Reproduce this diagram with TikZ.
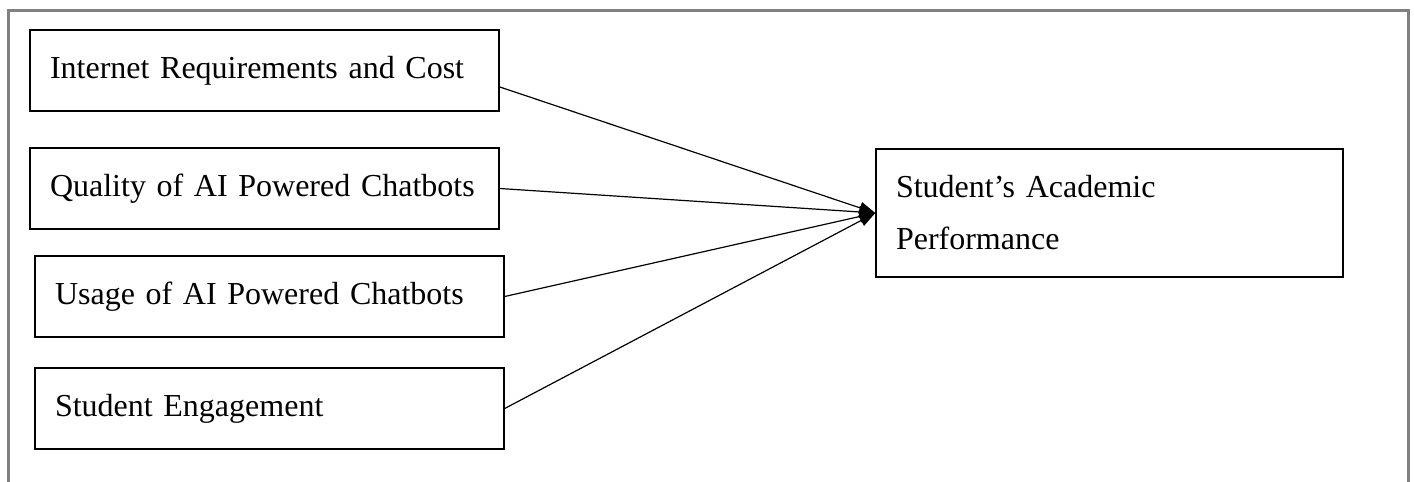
\documentclass[tikz,border=0pt]{standalone}
\usepackage{fontspec}
\setmainfont{Liberation Serif}
\usetikzlibrary{arrows.meta}
\begin{document}
\begin{tikzpicture}[x=1pt,y=1pt,
    factor/.style={draw,line width=1.4pt,minimum width=469pt,minimum height=81pt,
      inner xsep=20pt,text width=429pt,align=left,font=\fontsize{32}{52}\selectfont},
    outcome/.style={factor,minimum width=467pt,minimum height=128pt,text width=427pt}]
  \useasboundingbox (0,0) rectangle (1414,482);
  \draw[gray,line width=3pt] (8.5,-5) |- (1408,471) -- (1408,-5);
  \draw
    (264.5,411.5) node[factor] (cost){Internet Requirements and Cost}
    (264.5,293.5) node[factor] (quality){Quality of AI Powered Chatbots}
    (269.5,185.5) node[factor] (usage){Usage of AI Powered Chatbots}
    (269.5,73.5) node[factor] (engage){Student Engagement}
    (1109.5,269) node[outcome] (perf){Student’s Academic\\Performance};
  \begin{scope}[line width=1.2pt,-{Triangle[length=16pt,width=12pt]}]
    \draw (cost.-4) to (perf.west);
    \draw (quality.east) to (perf.west);
    \draw (usage.east) to (perf.west);
    \draw (engage.east) to (perf.west);
  \end{scope}
\end{tikzpicture}
\end{document}
